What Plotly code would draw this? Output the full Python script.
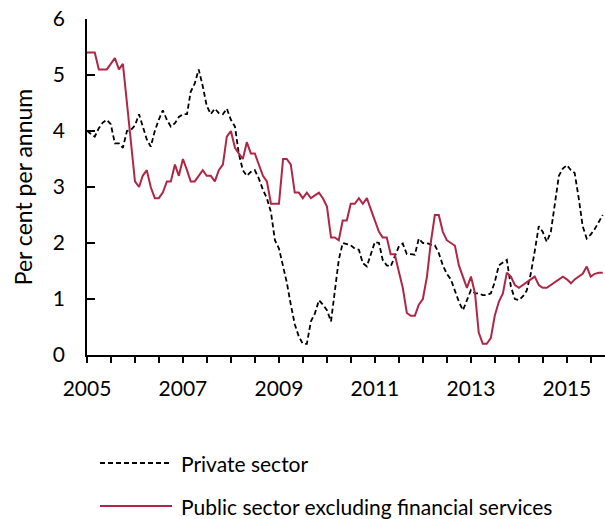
import plotly.graph_objects as go
import pandas as pd

start = "2005-01-01"
n_months = 130

private_sector = [
    4.0, 3.95, 3.9, 4.05, 4.15, 4.2, 4.12, 3.78, 3.78, 3.7, 4.0, 4.02,
    4.1, 4.3, 4.1, 3.85, 3.72, 4.0, 4.2, 4.37, 4.2, 4.08, 4.14, 4.25,
    4.3, 4.3, 4.7, 4.85, 5.1, 4.8, 4.45, 4.3, 4.4, 4.32, 4.3, 4.4,
    4.2, 4.08, 3.6, 3.3, 3.2, 3.27, 3.3, 3.15, 2.95, 2.8, 2.55, 2.05,
    1.9, 1.6, 1.3, 0.9, 0.55, 0.33, 0.2, 0.2, 0.6, 0.74, 0.98, 0.9,
    0.8, 0.6, 1.1, 1.7, 2.0, 1.98, 1.96, 1.9, 1.88, 1.64, 1.58, 1.8,
    2.02, 2.0, 1.7, 1.6, 1.58, 1.76, 1.93, 1.99, 1.8, 1.8, 1.79, 2.08,
    2.0, 2.0, 1.97, 1.96, 1.82, 1.6, 1.45, 1.35, 1.15, 0.95, 0.8, 0.98,
    1.16, 1.1, 1.1, 1.07, 1.07, 1.1, 1.3, 1.6, 1.65, 1.7, 1.22, 1.0,
    0.98, 1.05, 1.15, 1.45, 1.85, 2.3, 2.2, 2.02, 2.2, 2.7, 3.2, 3.33,
    3.39, 3.3, 3.25, 2.8, 2.3, 2.08, 2.15, 2.25, 2.38, 2.5,
]

public_sector_ex_fs = [
    5.4, 5.4, 5.4, 5.1, 5.1, 5.1, 5.2, 5.3, 5.1, 5.2, 4.5, 3.8,
    3.1, 3.0, 3.2, 3.3, 3.0, 2.8, 2.8, 2.9, 3.1, 3.1, 3.4, 3.2,
    3.5, 3.3, 3.1, 3.1, 3.2, 3.3, 3.2, 3.2, 3.1, 3.3, 3.4, 3.9,
    4.0, 3.7, 3.6, 3.5, 3.8, 3.6, 3.6, 3.4, 3.2, 3.1, 2.7, 2.7,
    2.7, 3.5, 3.5, 3.4, 2.9, 2.9, 2.8, 2.9, 2.8, 2.85, 2.9, 2.8,
    2.65, 2.1, 2.1, 2.05, 2.4, 2.4, 2.7, 2.7, 2.8, 2.7, 2.8, 2.6,
    2.4, 2.2, 2.1, 2.1, 1.8, 1.8, 1.5, 1.2, 0.75, 0.7, 0.7, 0.9,
    1.0, 1.4, 2.0, 2.5, 2.5, 2.2, 2.05, 2.0, 1.95, 1.6, 1.4, 1.2,
    1.4, 1.1, 0.4, 0.2, 0.2, 0.3, 0.7, 0.95, 1.1, 1.47, 1.4, 1.25,
    1.2, 1.25, 1.3, 1.35, 1.4, 1.25, 1.2, 1.2, 1.25, 1.3, 1.35, 1.4,
    1.35, 1.28, 1.35, 1.4, 1.45, 1.58, 1.4, 1.45, 1.47, 1.47,
]

series_names = ["Private sector", "Public sector excluding financial services"]
y_ticks = [0, 1, 2, 3, 4, 5, 6]
year_labels = ["2005", "2007", "2009", "2011", "2013", "2015"]

dates = pd.date_range(start, periods=n_months, freq="MS")

tick_dates = pd.date_range("2005-01-01", "2015-07-01", freq="6MS")
tick_text = [d.strftime("%Y") if (d.month == 1 and d.strftime("%Y") in year_labels) else "" for d in tick_dates]

FONT = "Lato, 'Open Sans', sans-serif"
RED = "#AE2745"
styles = [
    dict(color="black", width=1.8, dash="5px,3px"),
    dict(color=RED, width=2),
]

W, H = 605, 519
ML, MR, MT, MB = 87, 0, 19, 164
PW, PH = W - ML - MR, H - MT - MB

fig = go.Figure()
for name, vals, st in zip(series_names, [private_sector, public_sector_ex_fs], styles):
    fig.add_trace(go.Scatter(
        x=dates[:len(vals)], y=vals, mode="lines", name=name,
        line=st, showlegend=False,
    ))

# manual legend (positions in pixels converted to paper coords)
legend_rows_px = [463, 506]
for name, st, ypx in zip(series_names, styles, legend_rows_px):
    yp = (H - MB - ypx) / PH
    fig.add_shape(type="line", xref="paper", yref="paper",
                  x0=(100 - ML) / PW, x1=(172 - ML) / PW, y0=yp, y1=yp,
                  line=st)
    fig.add_annotation(xref="paper", yref="paper", x=(179 - ML) / PW, y=yp,
                       xanchor="left", yanchor="middle", showarrow=False,
                       text=name, font=dict(family=FONT, size=21, color="black"))

fig.update_layout(
    width=W, height=H,
    margin=dict(l=ML, r=MR, t=MT, b=MB),
    paper_bgcolor="white", plot_bgcolor="white",
    font=dict(family=FONT, size=21, color="black"),
    showlegend=False,
)
fig.update_xaxes(
    range=["2005-01-01", "2015-10-18"],
    tickmode="array", tickvals=tick_dates, ticktext=tick_text,
    ticks="outside", ticklen=6, tickwidth=1.5, tickcolor="black",
    showline=True, linecolor="black", linewidth=1.5,
    showgrid=False, zeroline=False,
    tickfont=dict(family=FONT, size=21),
    ticklabelstandoff=8,
)
fig.update_yaxes(
    range=[0, 6], tickmode="array", tickvals=y_ticks,
    ticks="inside", ticklen=8, tickwidth=1.5, tickcolor="black",
    showline=True, linecolor="black", linewidth=1.5,
    showgrid=False, zeroline=False,
    tickfont=dict(family=FONT, size=21),
    ticklabelstandoff=16,
    title=dict(text="Per cent per annum", font=dict(family=FONT, size=23), standoff=14),
)

fig.write_html("out.html", config={"displayModeBar": False},
               post_script="document.body.style.margin='0';")
